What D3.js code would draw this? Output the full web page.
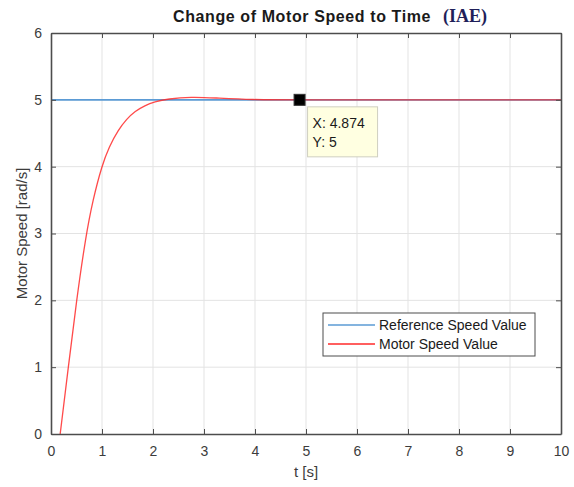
<!DOCTYPE html>
<html>
<head>
<meta charset="utf-8">
<script src="https://cdn.jsdelivr.net/npm/d3@7"></script>
<style>
  body { margin: 0; background: #fff; }
  text { font-family: "Liberation Sans", Arial, sans-serif; }
</style>
</head>
<body>
<div id="chart"></div>
<script>
// values
const timeS = [0.18, 0.34, 0.5, 0.68, 0.82, 1.0, 1.14, 1.32, 1.48, 1.65, 1.84, 2.03, 2.29, 2.75, 3.2, 3.9, 5, 7, 10];
const motorSpeed = [0, 1, 2, 2.95, 3.5, 4.02, 4.3, 4.55, 4.71, 4.83, 4.915, 4.97, 5.015, 5.045, 5.03, 5.0, 5, 5, 5];
const refTime = [0, 10];
const refSpeed = [5, 5];
const xTicks = [0, 1, 2, 3, 4, 5, 6, 7, 8, 9, 10];
const yTicks = [0, 1, 2, 3, 4, 5, 6];
const tipX = 4.874;
const tipY = 5;
const seriesNames = ["Reference Speed Value", "Motor Speed Value"];
const seriesColors = ["#5b9bd5", "#ff2a2a"];

const width = 574;
const height = 487;
const margin = { top: 33, right: 13, bottom: 53, left: 51 };

const svg = d3
  .select("#chart")
  .append("svg")
  .attr("width", width)
  .attr("height", height);

const x = d3
  .scaleLinear()
  .domain([0, 10])
  .range([margin.left, width - margin.right]);
const y = d3
  .scaleLinear()
  .domain([0, 6])
  .range([height - margin.bottom, margin.top]);

// grid
svg
  .append("g")
  .attr("stroke", "#e3e3e3")
  .selectAll("line")
  .data(xTicks.slice(1, -1))
  .join("line")
  .attr("x1", (d) => x(d))
  .attr("x2", (d) => x(d))
  .attr("y1", y(0))
  .attr("y2", y(6));
svg
  .append("g")
  .attr("stroke", "#e3e3e3")
  .selectAll("line")
  .data(yTicks.slice(1, -1))
  .join("line")
  .attr("x1", x(0))
  .attr("x2", x(10))
  .attr("y1", (d) => y(d))
  .attr("y2", (d) => y(d));

// lines
svg
  .append("clipPath")
  .attr("id", "plot")
  .append("rect")
  .attr("x", x(0))
  .attr("y", y(6))
  .attr("width", x(10) - x(0))
  .attr("height", y(0) - y(6));

const line = d3
  .line()
  .x((d) => x(d[0]))
  .y((d) => y(d[1]));

const plot = svg.append("g").attr("clip-path", "url(#plot)");

plot
  .append("path")
  .datum(d3.zip(refTime, refSpeed))
  .attr("fill", "none")
  .attr("stroke", seriesColors[0])
  .attr("stroke-width", 1.6)
  .attr("d", line);

plot
  .append("path")
  .datum(d3.zip(timeS, motorSpeed))
  .attr("fill", "none")
  .attr("stroke", seriesColors[1])
  .attr("stroke-opacity", 0.85)
  .attr("stroke-width", 1.3)
  .attr("d", line.curve(d3.curveBasis));

// axes box
const axisColor = "#4d4d4d";
const fmt = d3.format("d");

const gx = svg
  .append("g")
  .attr("transform", `translate(0,${y(0)})`)
  .call(d3.axisBottom(x).tickValues(xTicks).tickFormat(fmt).tickSizeInner(-5).tickSizeOuter(0).tickPadding(12));
const gxTop = svg
  .append("g")
  .attr("transform", `translate(0,${y(6)})`)
  .call(d3.axisTop(x).tickValues(xTicks).tickFormat("").tickSizeInner(-5).tickSizeOuter(0));
const gy = svg
  .append("g")
  .attr("transform", `translate(${x(0)},0)`)
  .call(d3.axisLeft(y).tickValues(yTicks).tickFormat(fmt).tickSizeInner(-5).tickSizeOuter(0).tickPadding(9));
const gyRight = svg
  .append("g")
  .attr("transform", `translate(${x(10)},0)`)
  .call(d3.axisRight(y).tickValues(yTicks).tickFormat("").tickSizeInner(-5).tickSizeOuter(0));

[gx, gxTop, gy, gyRight].forEach((g) => {
  g.select(".domain").attr("stroke", axisColor).attr("stroke-width", 1.6);
  g.selectAll(".tick line").attr("stroke", axisColor);
  g.selectAll(".tick text")
    .attr("fill", "#3c3c3c")
    .style("font-size", "14px")
    .style("font-family", "'Liberation Sans', Arial, sans-serif");
});

// axis labels
svg
  .append("text")
  .attr("x", (x(0) + x(10)) / 2)
  .attr("y", 477)
  .attr("text-anchor", "middle")
  .attr("fill", "#3c3c3c")
  .style("font-size", "15px")
  .text("t [s]");

svg
  .append("text")
  .attr("transform", `translate(27,${(y(0) + y(6)) / 2}) rotate(-90)`)
  .attr("text-anchor", "middle")
  .attr("fill", "#3c3c3c")
  .style("font-size", "15px")
  .text("Motor Speed [rad/s]");

// title
const title = svg
  .append("text")
  .attr("x", 173)
  .attr("y", 22)
  .attr("fill", "#1a1a1a")
  .style("font-size", "16px")
  .style("font-weight", "bold");
title
  .append("tspan")
  .style("letter-spacing", "0.6px")
  .text("Change of Motor Speed to Time");
title
  .append("tspan")
  .attr("x", 443)
  .attr("fill", "#1f1f5a")
  .style("font-family", "'Liberation Serif', 'Times New Roman', serif")
  .style("font-size", "18px")
  .text("(IAE)");

// data tip
svg
  .append("rect")
  .attr("x", x(tipX) - 5.5)
  .attr("y", y(tipY) - 5.5)
  .attr("width", 11)
  .attr("height", 11)
  .attr("fill", "#000")
  .attr("stroke", "#333");

const tip = svg.append("g").attr("transform", `translate(${x(tipX) + 8},${y(tipY) + 7})`);
tip
  .append("rect")
  .attr("width", 70)
  .attr("height", 50)
  .attr("fill", "#ffffe1")
  .attr("stroke", "#cfcfc0");
tip
  .append("text")
  .attr("x", 5)
  .attr("y", 21)
  .attr("fill", "#1a1a1a")
  .style("font-size", "14px")
  .text(`X: ${tipX}`);
tip
  .append("text")
  .attr("x", 5)
  .attr("y", 40)
  .attr("fill", "#1a1a1a")
  .style("font-size", "14px")
  .text(`Y: ${tipY}`);

// legend
const legend = svg.append("g").attr("transform", "translate(323,313)");
legend
  .append("rect")
  .attr("width", 212)
  .attr("height", 43)
  .attr("fill", "#fff")
  .attr("stroke", "#4d4d4d");
const item = legend
  .selectAll("g.item")
  .data(seriesNames)
  .join("g")
  .attr("transform", (d, i) => `translate(0,${12 + i * 19})`);
item
  .append("line")
  .attr("x1", 5)
  .attr("x2", 52)
  .attr("stroke", (d, i) => seriesColors[i])
  .attr("stroke-width", 1.5);
item
  .append("text")
  .attr("x", 56)
  .attr("dy", "0.35em")
  .attr("fill", "#1a1a1a")
  .style("font-size", "14px")
  .text((d) => d);
</script>
</body>
</html>
